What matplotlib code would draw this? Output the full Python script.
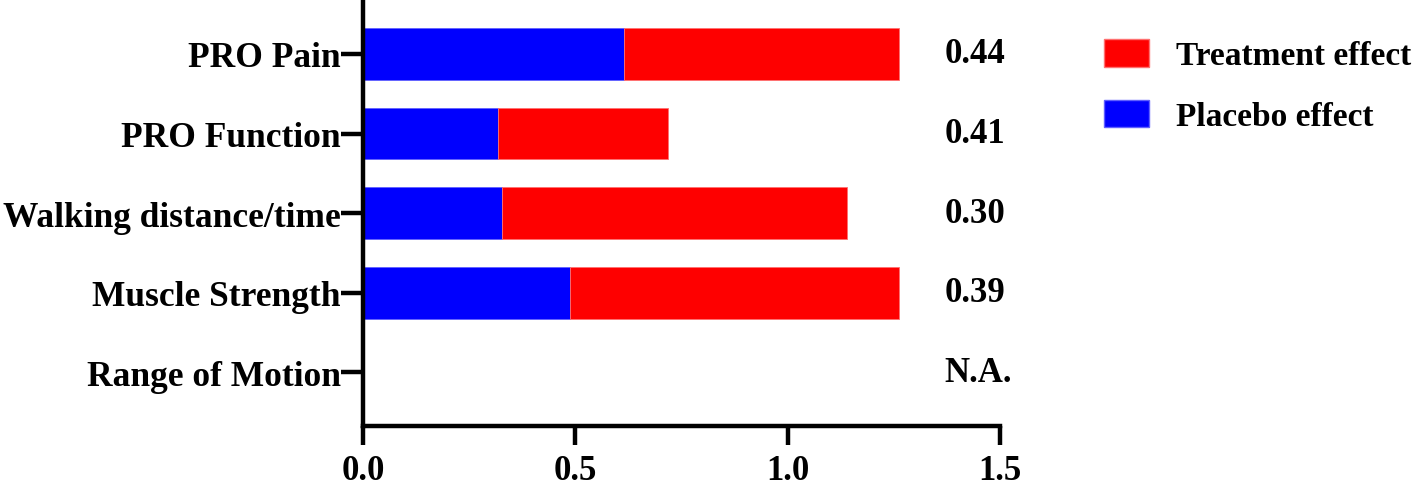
import matplotlib.pyplot as plt
import numpy as np
from matplotlib.patches import Patch

plt.rcParams['font.family'] = ['Liberation Serif', 'DejaVu Serif']
plt.rcParams['font.weight'] = 'bold'

categories = ['PRO Pain', 'PRO Function', 'Walking distance/time', 'Muscle Strength', 'Range of Motion']
placebo = [0.615, 0.317, 0.327, 0.488, 0.0]
total = [1.262, 0.718, 1.140, 1.261, 0.0]
treatment = [t - p for t, p in zip(total, placebo)]
ratio_labels = ['0.44', '0.41', '0.30', '0.39', 'N.A.']
xticks = [0.0, 0.5, 1.0, 1.5]

fig = plt.figure(figsize=(14.18, 4.85), dpi=100)
ax = fig.add_axes([363 / 1418, 1 - 427 / 485, (1000 - 363) / 1418, 427 / 485])

y = np.arange(len(categories))
ax.barh(y, placebo, height=0.65, color='#0000fe', edgecolor='#6060ff', linewidth=0.6)
ax.barh(y, treatment, left=placebo, height=0.65, color='#fe0000', edgecolor='#ff7070', linewidth=0.6)

for yi, lab in zip(y, ratio_labels):
    ax.text(1.37, yi, lab, ha='left', va='center', fontsize=25, fontweight='bold', clip_on=False)

ax.set_ylim(len(categories) - 1 + 0.675, -0.69)
ax.set_xlim(0, 1.5)
ax.set_yticks(y)
ax.set_yticklabels(categories, fontsize=25.5, fontweight='bold')
ax.set_xticks(xticks)
ax.set_xticklabels(['%.1f' % v for v in xticks], fontsize=25, fontweight='bold')

for s in ['top', 'right']:
    ax.spines[s].set_visible(False)
for s in ['left', 'bottom']:
    ax.spines[s].set_linewidth(3.2)
ax.tick_params(axis='y', length=16, width=3.2, pad=0)
ax.tick_params(axis='x', length=14, width=3.2, pad=6)

handles = [Patch(facecolor='#fe0000', edgecolor='#ff7070', label='Treatment effect'),
           Patch(facecolor='#0000fe', edgecolor='#6060ff', label='Placebo effect')]
fig.legend(handles=handles, loc='upper left', bbox_to_anchor=(1104 / 1418, 1 - 40 / 485),
           frameon=False, fontsize=24, handlelength=1.36, handleheight=0.9,
           handletextpad=0.8, labelspacing=0.85, borderpad=0, borderaxespad=0)

fig.savefig('out.png', dpi=100)
